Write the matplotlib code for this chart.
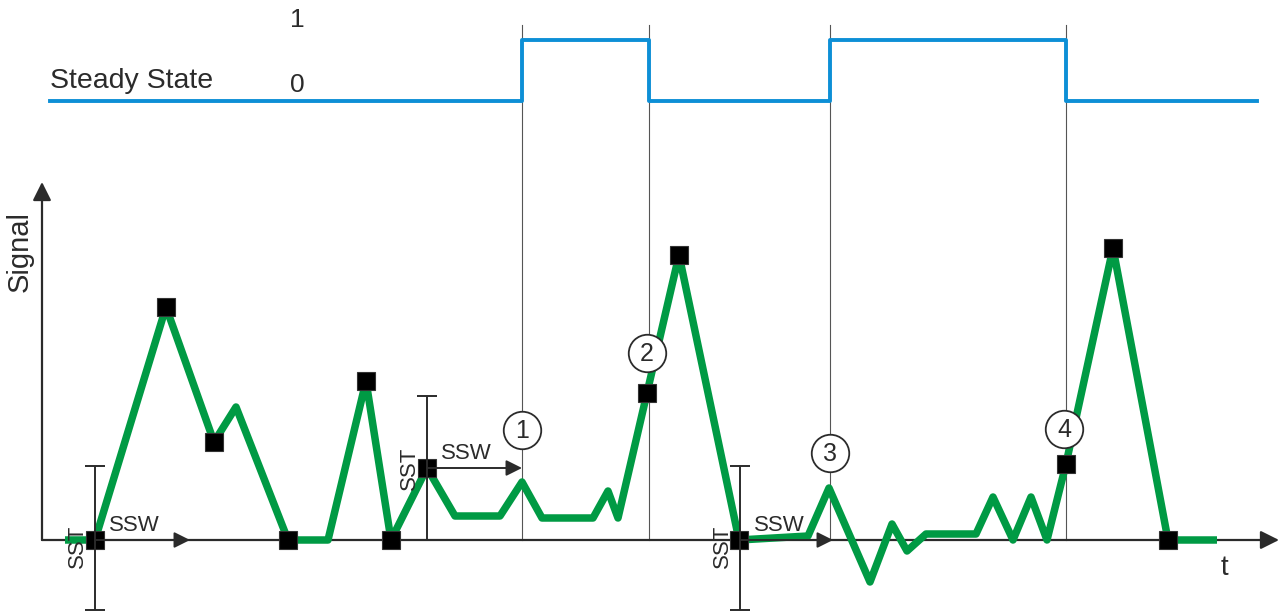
import matplotlib
matplotlib.use("Agg")
from matplotlib import pyplot as plt
import numpy as np

plt.rcParams['font.family'] = ['Liberation Sans', 'DejaVu Sans']

# signal trace (time, value)
t = [23, 53, 124, 172, 194, 246, 286, 324, 349, 385, 413, 458, 480, 500, 551, 566, 576,
     605, 637, 697, 766, 787, 828, 850, 865, 884, 934, 951, 971, 989, 1005, 1024, 1071,
     1126, 1175]
signal = [0, 0, 233, 98, 133, 0, 0, 159, 0, 72, 24, 24, 58, 22, 22, 49, 22,
          147, 285, 0, 4, 52, -42, 16, -11, 6, 6, 43, 0, 43, 0, 76, 292,
          0, 0]
marked = [1, 2, 3, 5, 7, 8, 9, 17, 18, 19, 31, 32, 33]

# steady state flag
ss_t = [8, 480, 480, 607, 607, 788, 788, 1024, 1024, 1215]
ss_val = [0, 0, 1, 1, 0, 0, 1, 1, 0, 0]
ss_base, ss_height = 439, 61

switch_t = [480, 607, 788, 1024]
circle_t = [480, 605, 788, 1022]
circle_s = [110, 187, 87, 111]
circle_lbl = ["1", "2", "3", "4"]

# steady state windows: start time, start value, window length, tolerance
win_t = [53, 385, 698]
win_s = [0, 72, 0]
win_len = [95, 95, 93]
sst_lo = [-70, 0, -70]
sst_hi = [74, 144, 74]

green = "#009a44"
blue = "#0d8fd6"
dark = "#2b2b2b"

fig = plt.figure(figsize=(12.79, 6.12), dpi=100)
ax = fig.add_axes([0, 0, 1, 1])
ax.set_xlim(-42, 1237)
ax.set_ylim(-72, 540)
ax.axis("off")

# switch lines
for x in switch_t:
    ax.plot([x, x], [0, 515], color="#555555", lw=0.8, zorder=1)

# axes with arrows
ax.annotate("", xy=(1237, 0), xytext=(0, 0),
            arrowprops=dict(arrowstyle="-|>", color=dark, lw=1.6, mutation_scale=28,
                            shrinkA=0, shrinkB=0), zorder=2)
ax.annotate("", xy=(0, 358), xytext=(0, 0),
            arrowprops=dict(arrowstyle="-|>", color=dark, lw=1.6, mutation_scale=28,
                            shrinkA=0, shrinkB=0), zorder=2)

# steady state line
ss_y = [ss_base + v * ss_height for v in ss_val]
ax.plot(ss_t, ss_y, color=blue, lw=2.8, zorder=3)

# signal
ax.plot(t, signal, color=green, lw=5.4, solid_joinstyle="round", solid_capstyle="butt",
        zorder=4)
ax.plot([t[i] for i in marked], [signal[i] for i in marked], ls="none", marker="s",
        ms=13.5, mfc="black", mec="#333333", mew=0.8, zorder=5)

# SST / SSW
for x0, y0, w, lo, hi in zip(win_t, win_s, win_len, sst_lo, sst_hi):
    ax.errorbar([x0], [(lo + hi) / 2], yerr=[[(hi - lo) / 2], [(hi - lo) / 2]],
                fmt="none", ecolor=dark, elinewidth=1.4, capsize=7, capthick=1.4, zorder=6)
    ax.annotate("", xy=(x0 + w, y0), xytext=(x0, y0),
                arrowprops=dict(arrowstyle="-|>", color=dark, lw=1.4, mutation_scale=24,
                                shrinkA=0, shrinkB=0), zorder=6)
    ax.text(x0 + 14, y0 + 4, "SSW", fontsize=16, color=dark, ha="left", va="bottom",
            zorder=7)
    ax.text(x0 - 18, y0 - 6 if lo < 0 else y0, "SST", fontsize=16, color=dark,
            rotation=90, ha="center", va="center", zorder=7)

# numbered circles
for x, y, lbl in zip(circle_t, circle_s, circle_lbl):
    ax.plot([x], [y], marker="o", ms=27, mfc="white", mec=dark, mew=1.3, zorder=8)
    ax.text(x, y - 1, lbl, fontsize=18, color=dark, ha="center", va="center", zorder=9)

# labels
ax.text(-22, 288, "Signal", fontsize=21, color=dark, rotation=90, ha="center", va="center")
ax.text(1182, -28, "t", fontsize=20, color=dark, ha="center", va="center")
ax.text(8, 459, "Steady State", fontsize=20.5, color=dark, ha="left", va="center")
ax.text(255, 520, "1", fontsize=19, color=dark, ha="center", va="center")
ax.text(255, 455, "0", fontsize=19, color=dark, ha="center", va="center")

fig.savefig("out.png", dpi=100)
